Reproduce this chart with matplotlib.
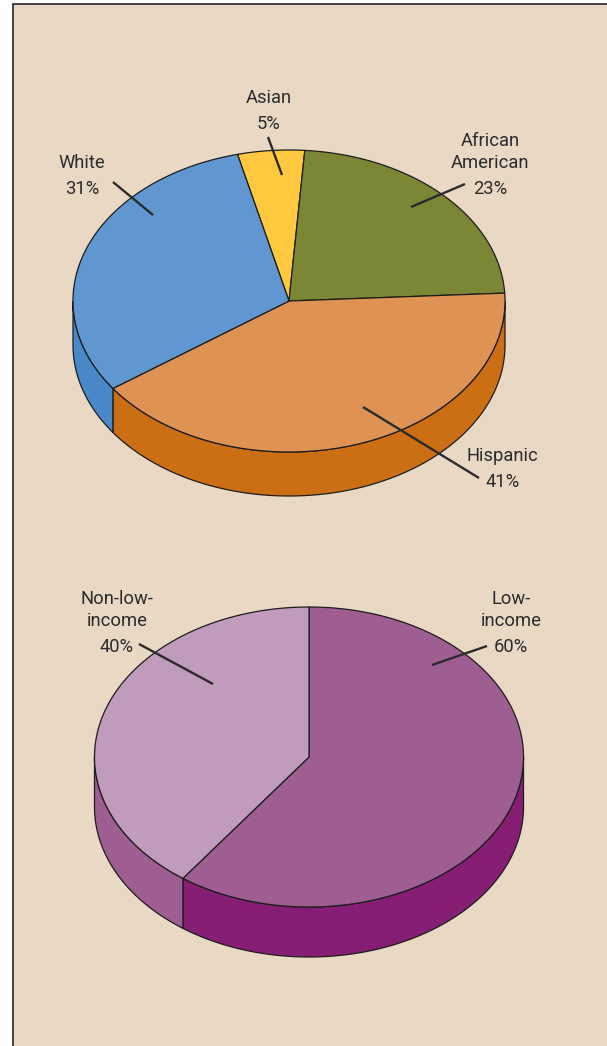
import numpy as np
import matplotlib
matplotlib.use("Agg")
import matplotlib.pyplot as plt
from matplotlib.patches import Polygon, Rectangle

# data
eth_names = [["Asian"], ["African", "American"], ["Hispanic"], ["White"]]
eth_values = [5, 23, 41, 31]
inc_names = [["Low-", "income"], ["Non-low-", "income"]]
inc_values = [60, 40]

# styles
eth_top = ["#FFC83F", "#7C8736", "#DE9354", "#6197D1"]
eth_side = ["#E0A820", "#5F6A28", "#CC6E14", "#4A89C8"]
inc_top = ["#9F5E92", "#C19BBB"]
inc_side = ["#861F73", "#9F5E92"]
BG = "#E9D9C4"
INK = "#2B2A2C"
FONT = ["Roboto", "DejaVu Sans"]

fig = plt.figure(figsize=(6.07, 10.46), dpi=100, facecolor="white")
ax = fig.add_axes([0, 0, 1, 1])
ax.set_xlim(0, 607)
ax.set_ylim(1046, 0)
ax.axis("off")

ax.add_patch(Rectangle((13, 4), 600, 1050, fc=BG, ec="#333333", lw=1.3, zorder=0))


def pie3d(values, tops, sides, cx, cy, rx, ry, depth, start):
    total = sum(values)
    ang = start
    spans = []
    for v in values:
        a1 = ang + 360 * v / total
        spans.append((ang, a1))
        ang = a1
    pt = lambda t: (cx + rx * np.sin(np.radians(t)), cy - ry * np.cos(np.radians(t)))
    # side walls: only the front half of the disc shows
    for (a0, a1), col in zip(spans, sides):
        for shift in (0, 360):
            lo = max(a0 + shift, 90)
            hi = min(a1 + shift, 270)
            if hi <= lo:
                continue
            t = np.linspace(lo, hi, 120)
            x, y = pt(t)
            xy = np.r_[np.c_[x, y], np.c_[x[::-1], y[::-1] + depth]]
            ax.add_patch(Polygon(xy, closed=True, fc=col, ec="#1c1c1c", lw=0.9, zorder=2))
    # top faces
    for (a0, a1), col in zip(spans, tops):
        t = np.linspace(a0, a1, 300)
        x, y = pt(t)
        xy = np.r_[[[cx, cy]], np.c_[x, y]]
        ax.add_patch(Polygon(xy, closed=True, fc=col, ec="#1c1c1c", lw=0.9, zorder=3, joinstyle="round"))


pie3d(eth_values, eth_top, eth_side, 289, 301, 216, 151, 44, -13.8)
pie3d(inc_values, inc_top, inc_side, 309, 757, 214.5, 150, 50, 0)

leaders = [((113, 182), (153, 215)), ((268, 137), (282, 175)), ((465, 184), (411, 207)),
           ((479, 478), (363, 407)), ((139, 644), (213, 684)), ((487, 646), (432, 665))]
for a, b in leaders:
    ax.plot([a[0], b[0]], [a[1], b[1]], color=INK, lw=1.7, zorder=5, solid_capstyle="butt")

# label anchors: centre x, baseline of the percentage line
anchors = [(268.5, 129), (490, 194), (502.5, 487), (82, 194), (511, 652), (117, 652)]
for names, v, (x, yb) in zip(eth_names + inc_names, eth_values + inc_values, anchors):
    ax.text(x, yb, f"{v}%", ha="center", va="baseline", fontsize=13.2, family=FONT, color=INK, zorder=6)
    for i, s in enumerate(reversed(names)):
        ax.text(x, yb - 26 - 21.5 * i, s, ha="center", va="baseline", fontsize=13.2,
                family=FONT, color=INK, zorder=6)

fig.savefig("out.png", dpi=100, facecolor="white")
